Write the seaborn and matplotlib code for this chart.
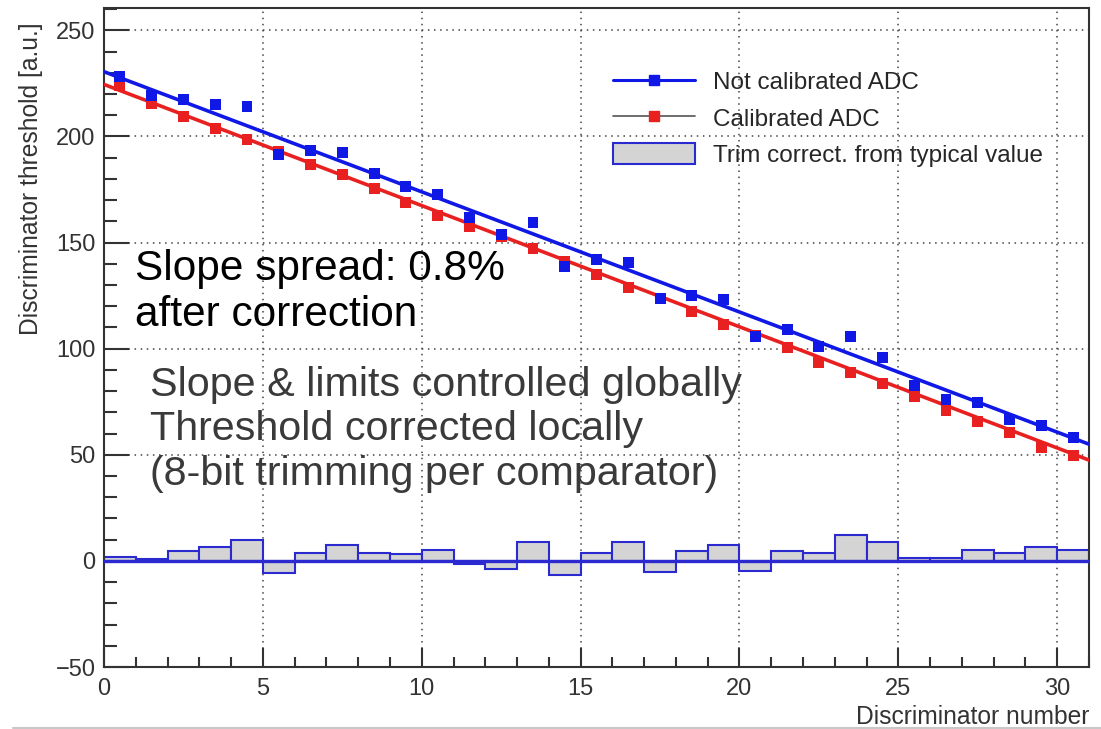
import numpy as np
import matplotlib
matplotlib.use("Agg")
import matplotlib.pyplot as plt
import seaborn as sns
from matplotlib.lines import Line2D
from matplotlib.patches import Patch
from matplotlib.ticker import MultipleLocator

# ---------------- data ----------------
disc_number = np.arange(31)                     # discriminator index (bins 0..30)
bin_edges = np.arange(32)                       # histogram bin edges
bin_centers = disc_number + 0.5

not_calibrated = [228.3, 219.5, 217.5, 215.0, 214.3, 191.5, 193.4, 192.5, 182.5, 176.3,
                  172.6, 161.8, 154.0, 159.4, 138.5, 142.0, 140.6, 123.5, 125.0, 123.0,
                  105.7, 109.0, 101.0, 105.7, 95.8, 82.5, 76.0, 74.5, 66.8, 63.8, 58.0]
calibrated = [223.8, 215.5, 209.2, 203.8, 198.7, 192.8, 186.8, 182.0, 175.6, 169.0,
              162.8, 157.6, 153.0, 147.0, 141.0, 135.0, 128.8, 123.5, 117.5, 111.3,
              106.0, 100.5, 93.6, 88.7, 83.5, 77.4, 71.0, 65.6, 60.4, 53.6, 49.6]
trim_correction = [1.7, 0.7, 4.5, 6.4, 10.0, -5.8, 3.5, 7.7, 3.5, 3.3,
                   5.2, -1.5, -3.8, 8.8, -6.8, 3.5, 8.8, -5.3, 4.6, 7.7,
                   -4.7, 4.6, 3.5, 12.2, 8.8, 1.6, 1.2, 5.0, 3.5, 6.4, 5.2]

fit_x = [0, 31]
fit_not_calibrated = [230.5, 55.0]
fit_calibrated = [224.5, 47.5]

legend_labels = ["Not calibrated ADC", "Calibrated ADC", "Trim correct. from typical value"]

BLUE = "#1018e6"
RED = "#e82020"
EDGE = "#2a2ad0"
FILL = "#d4d4d4"
DARK = "#333333"

# ---------------- figure ----------------
sns.set_theme(style="white")
plt.rcParams['font.family'] = ['Liberation Sans', 'DejaVu Sans']

fig = plt.figure(figsize=(11.01, 7.29), dpi=100)
ax = fig.add_axes([0.0945, 0.085, 0.8946, 0.904])

# histogram of trim corrections
ax.bar(bin_edges[:-1], trim_correction, width=1, align='edge', color=FILL,
       edgecolor=EDGE, linewidth=1.5, zorder=2)
ax.axhline(0, color=EDGE, lw=2.4, zorder=3)

# fit lines
sns.lineplot(x=fit_x, y=fit_not_calibrated, color=BLUE, lw=2.6, ax=ax, zorder=4)
sns.lineplot(x=fit_x, y=fit_calibrated, color=RED, lw=2.6, ax=ax, zorder=4)

# points
sns.scatterplot(x=bin_centers, y=calibrated, marker='s', s=62, color=RED,
                edgecolor='none', ax=ax, zorder=5)
sns.scatterplot(x=bin_centers, y=not_calibrated, marker='s', s=62, color=BLUE,
                edgecolor='none', ax=ax, zorder=6)

ax.set_xlim(0, 31)
ax.set_ylim(-50, 260.5)

ax.xaxis.set_major_locator(MultipleLocator(5))
ax.xaxis.set_minor_locator(MultipleLocator(1))
ax.yaxis.set_major_locator(MultipleLocator(50))
ax.yaxis.set_minor_locator(MultipleLocator(10))

ax.grid(True, which='major', linestyle=(0, (1, 3)), color='#444444', lw=1.1)
ax.set_axisbelow(True)

ax.tick_params(which='both', direction='in', bottom=True, left=True, top=False, right=False,
               colors=DARK, labelcolor=DARK, labelsize=17, width=1.5)
ax.tick_params(axis='x', which='major', length=14, pad=8)
ax.tick_params(axis='x', which='minor', length=7)
ax.tick_params(axis='y', which='major', length=18, pad=6)
ax.tick_params(axis='y', which='minor', length=9)

for sp in ax.spines.values():
    sp.set_visible(True)
    sp.set_color(DARK)
    sp.set_linewidth(1.5)

ax.set_ylabel("Discriminator threshold [a.u.]", fontsize=17.7, color=DARK, loc='top')
ax.yaxis.set_label_coords(-0.062, 0.978)
ax.set_xlabel("Discriminator number", fontsize=17.7, color=DARK, loc='right')
ax.xaxis.set_label_coords(1.0, -0.058)

# annotations
ax.text(0.98, 147, "Slope spread: 0.8%\nafter correction", fontsize=30.5,
        color='black', va='top', ha='left', zorder=7)
ax.text(1.45, 92, "Slope & limits controlled globally\nThreshold corrected locally\n"
        "(8-bit trimming per comparator)", fontsize=29.7, color='#3a3a3a',
        va='top', ha='left', linespacing=1.22, zorder=7)

# legend
h1 = Line2D([], [], color=BLUE, lw=2.2, marker='s', ms=7.5, markerfacecolor=BLUE,
            markeredgecolor=BLUE)
h2 = Line2D([], [], color='#555555', lw=1.2, marker='s', ms=7.5, markerfacecolor=RED,
            markeredgecolor=RED)
h3 = Patch(facecolor=FILL, edgecolor=EDGE, lw=1.5)
ax.legend([h1, h2, h3], legend_labels, loc='upper left', bbox_to_anchor=(0.5168, 0.906),
          frameon=False, fontsize=17.5, handlelength=3.37, handleheight=1.0,
          handletextpad=0.74, labelspacing=0.5, borderpad=0, borderaxespad=0)

fig.add_artist(Line2D([0.012, 1.0], [0.002, 0.002], transform=fig.transFigure,
                      color='#c8c8c8', lw=1.5))

fig.savefig("out.png", dpi=100)
